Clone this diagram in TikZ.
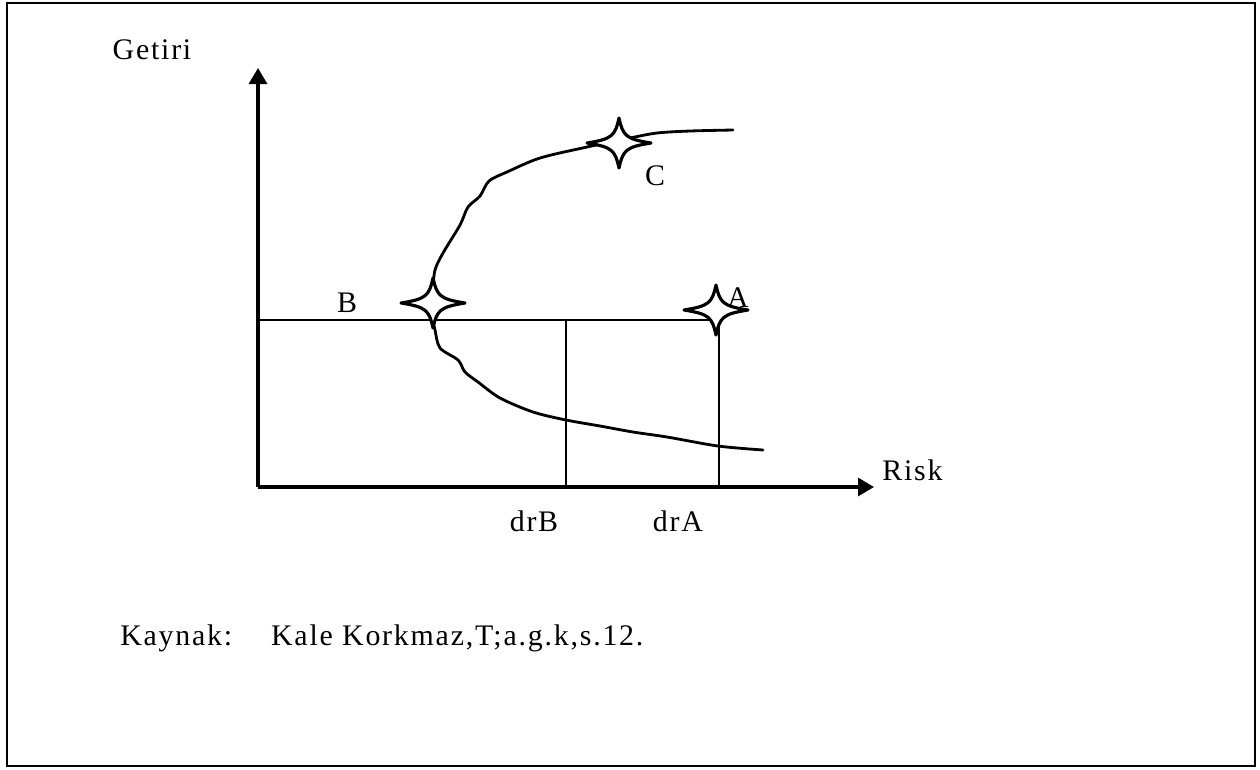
\documentclass[tikz,border=0pt]{standalone}
\usepackage{fontspec}
\setmainfont{Liberation Serif}
\usetikzlibrary{arrows.meta}
\tikzset{
  rg frame/.style={draw=black, line width=1.1pt},
  rg axis/.style={draw=black, line width=1.8pt, -{Triangle[length=3.2mm,width=3.6mm]}},
  rg guide/.style={draw=black, line width=0.6pt},
  rg curve/.style={draw=black, line width=1.6pt, line join=round, line cap=round},
  rg label/.style={font=\fontsize{17}{20}\selectfont\addfontfeature{LetterSpace=6}, text=black, inner sep=0pt},
  pics/rg star/.style={code={
    \draw[line width=1.8pt, fill=white, line join=round]
      (32,0) .. controls (7,4) and (4,7) .. (0,25)
      .. controls (-4,7) and (-7,4) .. (-32,0)
      .. controls (-7,-4) and (-4,-7) .. (0,-25)
      .. controls (4,-7) and (7,-4) .. cycle;}},
}
\begin{document}
\begin{tikzpicture}[x=0.02cm,y=-0.02cm]
\useasboundingbox (0,0) rectangle (1260,769);
\draw[rg frame] (7,3) rectangle (1255,766);
% axes
\coordinate (O) at (258,487);\coordinate (ytop) at (258,68);\coordinate (xend) at (874,487);
\draw[rg axis] (O) -- (ytop);
\draw[rg axis] (O) -- (xend);
\node[rg label] (getiri) at (152,50) {Getiri};
\node[rg label,anchor=west] (risk) at (882,470) {Risk};
% guide lines
\coordinate (gB) at (258,320);\coordinate (gA) at (719,320);\coordinate (gM) at (566,320);
\coordinate (drBx) at (566,487);\coordinate (drAx) at (719,487);
\draw[rg guide] (gB) -- (gA);
\draw[rg guide] (gM) -- (drBx);
\draw[rg guide] (gA) -- (drAx);
\node[rg label] (drB) at (534,521) {drB};
\node[rg label] (drA) at (678,521) {drA};
% frontier
\draw[rg curve] plot[smooth,tension=0.5] coordinates {(733,130) (690,131) (657,133) (630,138) (587,147) (540,158) (507,172) (489,181) (480,196) (468,207) (460,225) (443,253) (435,270) (433,290) (433,303) (433,320) (435,330) (440,348) (458,360) (465,372) (478,382) (500,398) (533,412) (566,420) (600,426) (633,432) (667,437) (718,446) (763,450)};
\node[rg label] (labB) at (347,303) {B};
\node[rg label] (labC) at (655,176) {C};
\node[rg label] (labA) at (738,298) {A};
\pic at (433,303) {rg star};
\pic at (619,143) {rg star};
\pic at (716,310) {rg star};
\node[rg label,anchor=west] (kaynak) at (120,638) {Kaynak:\hspace{1.3em}Kale Korkmaz,T;a.g.k,s.12.};
\end{tikzpicture}
\end{document}
